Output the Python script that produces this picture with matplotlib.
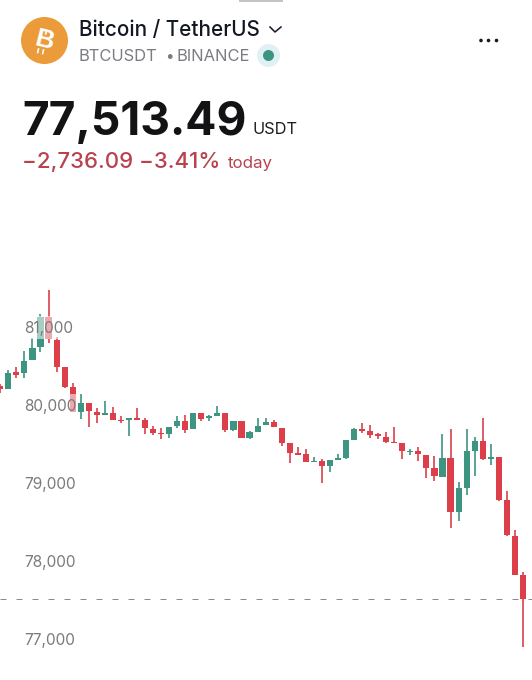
import matplotlib
matplotlib.use("Agg")
import matplotlib.pyplot as plt
from matplotlib.patches import Circle, Rectangle

opens = [80243,80205,80423,80410,80577,80743,81128,80833,80487,80231,79910,80026,79910,79872,79897,79808,79814,79833,79808,79692,79641,79628,79731,79795,79692,79897,79833,79859,79897,79679,79795,79577,79654,79743,79782,79705,79513,79385,79372,79269,79282,79218,79295,79320,79551,79686,79667,79628,79590,79526,79513,79397,79410,79359,79192,79077,79320,78628,78936,79410,79538,79308,79333,78782,78320,77820]
highs = [80269,80449,80487,80692,80859,81167,81474,80872,80487,80282,80141,80026,79961,80051,79974,79859,79833,79961,79833,79731,79705,79718,79859,79872,79897,79897,79872,79987,79897,79795,79795,79667,79833,79833,79808,79705,79513,79461,79436,79333,79308,79295,79372,79551,79705,79769,79743,79641,79654,79718,79513,79436,79461,79359,79346,79628,79692,79013,79692,79590,79833,79500,79333,78897,78397,77859]
lows = [80154,80205,80346,80346,80577,80679,80795,80423,80218,79910,79820,79718,79769,79872,79808,79769,79602,79808,79628,79615,79564,79577,79705,79641,79692,79795,79795,79859,79654,79667,79577,79564,79654,79743,79718,79474,79256,79359,79269,79269,79000,79141,79295,79308,79551,79641,79577,79564,79513,79513,79308,79359,79282,79064,79026,79077,78423,78513,78846,79090,79295,79231,78769,78320,77820,76897]
closes = [80205,80410,80384,80564,80731,81128,80846,80487,80231,79910,80026,79923,79872,79897,79808,79795,79833,79814,79705,79641,79628,79718,79795,79679,79897,79820,79859,79897,79679,79795,79577,79654,79731,79782,79718,79513,79385,79359,79269,79282,79218,79295,79320,79551,79692,79667,79615,79602,79526,79513,79410,79410,79372,79192,79090,79320,78628,78936,79410,79538,79308,79327,78782,78333,77820,77513.49]
price_ticks = [77000, 78000, 79000, 80000, 81000]
last_price = 77513.49

GREEN, RED = "#3d9480", "#dc3f4a"
W, H = 532, 680
plt.rcParams["font.family"] = ["Inter", "DejaVu Sans"]
fig = plt.figure(figsize=(W / 100, H / 100), dpi=100, facecolor="white")

ax = fig.add_axes([0, 0, 1, 1])
px_per_bar, px_per_usd = 8.04, 78 / 1000
ax.set_xlim(-0.3 / px_per_bar, (W - 0.3) / px_per_bar)
ax.set_ylim(81000 - (H - 327) / px_per_usd, 81000 + 327 / px_per_usd)
for s in ax.spines.values():
    s.set_visible(False)

xs = list(range(len(opens)))
cols = [GREEN if c >= o else RED for o, c in zip(opens, closes)]
ax.axhline(last_price, color="#8a8a8a", lw=0.72, ls=(0, (6, 10)), zorder=0.5)
ax.vlines(xs, lows, highs, colors=cols, lw=1.2, zorder=1.5)
ax.bar(xs, [max(abs(c - o), 12) for o, c in zip(opens, closes)],
       bottom=[min(o, c) for o, c in zip(opens, closes)],
       width=0.76, color=cols, linewidth=0, zorder=1.6)

for t in (80000, 81000):
    ax.axhspan(t - 150, t + 140, 23 / W, 76 / W, color="white", alpha=0.55, lw=0, zorder=2.2)

ax.set_xticks([])
ax.set_yticks(price_ticks, [f"{t:,}" for t in price_ticks])
ax.tick_params(axis="y", length=0, pad=-24 * 0.72, labelsize=11.1, labelcolor="#7b7b7b")
for lab in ax.get_yticklabels():
    lab.set_ha("left")
ax.set_axisbelow(False)

# header overlay in pixel coordinates
ov = fig.add_axes([0, 0, 1, 1], facecolor="none")
ov.set_xlim(0, W)
ov.set_ylim(H, 0)
ov.axis("off")
ov.add_patch(Rectangle((239, 0), 44, 2, color="#c4c4c4", lw=0))
ov.add_patch(Circle((44.5, 40.5), 23.5, color="#ec9b3b", lw=0))
ov.text(44, 41, "B", color="white", fontsize=19, fontweight="bold", rotation=-14,
        ha="center", va="center", family="Liberation Sans")
ov.plot([41.5, 40.7], [29.5, 33], color="white", lw=1.2)
ov.plot([46.5, 45.7], [30.5, 34], color="white", lw=1.2)
ov.plot([38.5, 37.7], [49, 52.5], color="white", lw=1.2)
ov.plot([43.5, 42.7], [50, 53.5], color="white", lw=1.2)
ov.text(79, 35.5, "Bitcoin / TetherUS", fontsize=14.9, fontweight="medium", color="#131722", va="baseline")
ov.plot([270, 275, 281], [27, 32, 27], color="#131722", lw=1.1)
ov.text(79, 61, "BTCUSDT", fontsize=11.9, color="#7a7c82", va="baseline")
ov.text(165, 61, "•", fontsize=11, color="#7a7c82", va="baseline")
ov.text(177, 61, "BINANCE", fontsize=11.9, color="#7a7c82", va="baseline")
ov.add_patch(Circle((268.5, 55.5), 11.5, color="#e0f0f4", lw=0))
ov.add_patch(Circle((268.5, 55.5), 5.5, color="#3d9480", lw=0))
for x in (481, 488.5, 496.5):
    ov.add_patch(Circle((x, 40.5), 1.8, color="#1a1a1a", lw=0))
ov.text(22, 134.5, "77,513.49", fontsize=33.2, fontweight="bold", color="#131315", va="baseline")
ov.text(253, 134, "USDT", fontsize=11.8, color="#1c1c20", va="baseline")
ov.text(22, 168, "−2,736.09 −3.41%", fontsize=16, fontweight="medium", color="#b8434f", va="baseline")
ov.text(228, 168, "today", fontsize=12.2, color="#b8434f", va="baseline")

fig.savefig("out.png", dpi=100, facecolor="white")
